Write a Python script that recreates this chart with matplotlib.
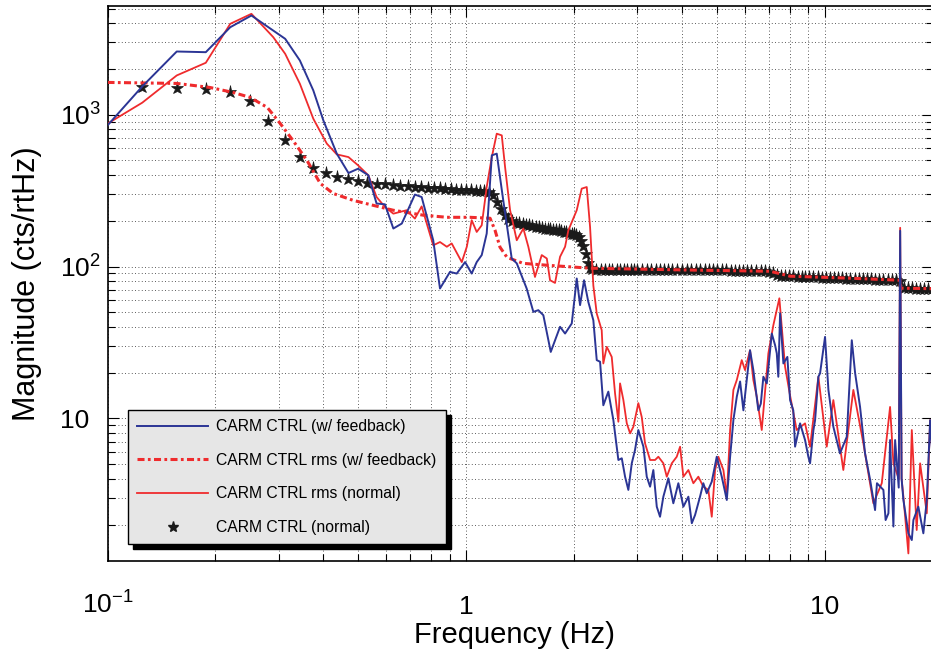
import matplotlib
matplotlib.use('Agg')
import numpy as np
import matplotlib.pyplot as plt
from matplotlib.lines import Line2D
from matplotlib.ticker import FixedLocator, LogLocator, NullFormatter

plt.rcParams['font.family'] = ['Liberation Sans', 'DejaVu Sans']
plt.rcParams['mathtext.fontset'] = 'custom'
plt.rcParams['mathtext.rm'] = 'Liberation Sans'
plt.rcParams['mathtext.it'] = 'Liberation Sans:italic'
plt.rcParams['mathtext.bf'] = 'Liberation Sans:bold'

# CARM CTRL (w/ feedback)
f_blue = [0.1, 0.125, 0.156, 0.188, 0.22, 0.252, 0.313, 0.344, 0.375, 0.40,
          0.436, 0.47, 0.50, 0.534, 0.563, 0.594, 0.627, 0.662, 0.72, 0.752,
          0.81, 0.846, 0.902, 0.942, 0.994, 1.037, 1.071, 1.106, 1.142, 1.18,
          1.218, 1.27, 1.341, 1.385, 1.476, 1.541, 1.591, 1.643, 1.723, 1.829,
          1.889, 1.972, 2.036, 2.08, 2.134, 2.193, 2.265, 2.315, 2.365, 2.415,
          2.494, 2.576, 2.66, 2.719, 2.777, 2.836, 2.899, 2.96, 3.024, 3.124,
          3.192, 3.261, 3.33, 3.404, 3.476, 3.551, 3.667, 3.786, 3.91, 4.038,
          4.17, 4.263, 4.353, 4.494, 4.59, 4.692, 4.846, 5.004, 5.167, 5.337,
          5.452, 5.568, 5.691, 5.813, 5.937, 6.196, 6.329, 6.535, 6.64, 6.75,
          6.9, 7.125, 7.276, 7.357, 7.43, 7.515, 7.676, 7.875, 8.013, 8.18,
          8.274, 8.545, 8.822, 9.01, 9.111, 9.31, 9.409, 9.61, 9.714, 10.03,
          10.25, 10.58, 11.04, 11.53, 11.91, 12.17, 12.56, 12.97, 13.4, 13.83,
          14.0, 14.59, 14.8, 15.07, 15.23, 15.56, 15.73, 16.1, 16.25, 16.4,
          16.59, 17.13, 17.51, 17.69, 18.26, 18.86, 19.28, 19.7, 20.0]
v_blue = [850, 1535, 2608, 2581, 3770, 4502, 3162, 2276, 1445, 917,
          554, 413, 441, 399, 260, 257, 178, 192, 298, 287,
          149, 71.7, 92.2, 89.9, 107, 89.9, 107, 119, 165, 540,
          554, 273, 113, 105, 71.7, 50.3, 51.6, 47.8, 27.4, 40.1,
          36.2, 42.2, 83.4, 55.7, 81.3, 58.5, 44.3, 24.2, 23.6, 12.2,
          15.0, 9.74, 5.32, 5.46, 4.13, 3.38, 5.06, 6.19, 8.38, 6.51,
          4.13, 3.55, 4.57, 2.62, 2.25, 3.05, 4.03, 2.76, 3.74, 2.62,
          3.05, 2.04, 2.31, 3.05, 3.74, 3.21, 3.83, 5.59, 4.13, 2.90,
          5.59, 9.74, 13.9, 17.5, 11.3, 28.1, 20.8, 11.3, 12.5, 18.8,
          17.0, 36.2, 30.4, 26.8, 18.8, 49.1, 23.0, 25.4, 13.2, 11.3,
          6.51, 9.27, 7.20, 5.59, 5.06, 8.38, 9.74, 18.8, 19.8, 34.4,
          15.4, 8.81, 5.88, 7.56, 32.7, 19.8, 11.9, 5.88, 3.93, 2.49,
          3.74, 3.38, 2.14, 2.37, 7.2, 1.94, 7.2, 3.5, 172, 4.0,
          2.9, 1.75, 1.58, 2.14, 2.62, 1.75, 2.9, 9.74, 5.5]

# CARM CTRL rms (normal)
f_red = [0.1, 0.125, 0.156, 0.188, 0.22, 0.252, 0.29, 0.313, 0.344, 0.375,
         0.409, 0.436, 0.47, 0.50, 0.534, 0.563, 0.594, 0.627, 0.683, 0.72,
         0.752, 0.81, 0.846, 0.884, 0.912, 0.973, 1.005, 1.037, 1.071, 1.106,
         1.142, 1.18, 1.218, 1.258, 1.285, 1.327, 1.385, 1.445, 1.492, 1.557,
         1.626, 1.68, 1.715, 1.771, 1.829, 1.889, 1.929, 2.036, 2.102, 2.171,
         2.218, 2.265, 2.315, 2.39, 2.415, 2.469, 2.549, 2.604, 2.66, 2.689,
         2.747, 2.808, 2.868, 2.929, 3.024, 3.091, 3.157, 3.261, 3.366, 3.439,
         3.551, 3.63, 3.749, 3.87, 3.954, 4.038, 4.17, 4.306, 4.446, 4.59,
         4.74, 4.846, 4.95, 5.056, 5.222, 5.337, 5.452, 5.568, 5.691, 5.875,
         6.0, 6.196, 6.329, 6.47, 6.68, 6.97, 7.197, 7.48, 7.76, 8.01,
         8.36, 8.822, 9.111, 9.61, 10.14, 10.58, 11.28, 12.03, 12.83, 13.68,
         14.44, 15.23, 15.56, 16.1, 16.25, 16.4, 16.59, 17.13, 17.51, 18.07,
         18.47, 19.28, 19.7, 20.0]
v_red = [873, 1200, 1814, 2198, 3970, 4619, 3240, 2519, 1599, 941,
         645, 548, 526, 464, 399, 287, 247, 223, 235, 207,
         249, 138, 145, 135, 142, 107, 135, 202, 169, 187,
         334, 526, 750, 731, 452, 235, 149, 178, 135, 85.4,
         119, 113, 81.3, 78.0, 116, 135, 173, 235, 326, 334,
         182, 75, 49.1, 38.1, 23.0, 29.6, 25.4, 14.6, 9.5, 17.0,
         13.2, 9.27, 7.97, 8.81, 12.6, 10.2, 6.85, 5.32, 5.32, 5.59,
         5.06, 4.13, 5.06, 5.59, 6.51, 4.13, 4.57, 3.74, 4.13, 3.55,
         3.38, 2.25, 4.57, 5.59, 4.57, 3.05, 8.38, 15.4, 17.9, 24.2,
         20.8, 28.1, 17.9, 13.9, 8.38, 26.8, 41.1, 61.8, 21.9, 14.2,
         8.38, 9.27, 6.51, 18.8, 6.51, 13.2, 4.57, 15.4, 6.85, 2.76,
         3.74, 11.9, 5.06, 4.0, 180, 4.0, 3.05, 1.29, 8.38, 1.84,
         5.06, 2.37, 9.74, 6.0]

# CARM CTRL rms (w/ feedback)
f_rms = [0.1, 0.156, 0.193, 0.224, 0.25, 0.279, 0.303, 0.329, 0.36, 0.392,
         0.426, 0.484, 0.551, 0.626, 0.759, 0.885, 1.026, 1.167, 1.205, 1.244,
         1.301, 1.442, 1.683, 2.22, 4.5, 7.05, 8.01, 11.8, 16.2, 16.3, 20.0]
v_rms = [1632, 1607, 1512, 1402, 1300, 1117, 877, 677, 500, 353,
         303, 273, 253, 235, 218, 211, 211, 208, 173, 134,
         115, 105, 102, 97.5, 94.6, 93.1, 86.4, 83.8, 81.3, 72.0, 71.5]

# CARM CTRL (normal)
f_star = [0.125, 0.156, 0.188, 0.219, 0.25, 0.281, 0.313, 0.344, 0.375, 0.406,
          0.438, 0.469, 0.5, 0.531, 0.563, 0.594, 0.625, 0.656, 0.688, 0.719,
          0.75, 0.781, 0.813, 0.844, 0.875, 0.906, 0.938, 0.969, 1.0, 1.031,
          1.063, 1.094, 1.125, 1.156, 1.188, 1.219, 1.25, 1.281, 1.313, 1.344,
          1.375, 1.406, 1.438, 1.469, 1.5, 1.531, 1.563, 1.594, 1.625, 1.656,
          1.688, 1.719, 1.75, 1.781, 1.813, 1.844, 1.875, 1.906, 1.938, 1.969,
          2.0, 2.031, 2.063, 2.094, 2.125, 2.156, 2.188, 2.219, 2.25,
          2.31, 2.38, 2.44, 2.5, 2.56, 2.63, 2.69, 2.75, 2.81, 2.88,
          2.94, 3.0, 3.09, 3.19, 3.28, 3.38, 3.47, 3.56, 3.66, 3.75,
          3.88, 4.0, 4.13, 4.25, 4.38, 4.5, 4.63, 4.75, 4.88, 5.0,
          5.16, 5.31, 5.47, 5.63, 5.78, 5.94, 6.09, 6.25, 6.44, 6.63,
          6.81, 7.0, 7.19, 7.38, 7.56, 7.75, 7.97, 8.19, 8.41, 8.63,
          8.84, 9.06, 9.31, 9.56, 9.81, 10.06, 10.34, 10.63, 10.91, 11.19,
          11.5, 11.81, 12.13, 12.44, 12.78, 13.13, 13.47, 13.84, 14.22, 14.59,
          15.0, 15.38, 15.78, 16.19, 16.63, 17.06, 17.5, 17.97, 18.44, 18.94,
          19.44, 19.97]
v_star = [1512, 1489, 1467, 1402, 1223, 904, 678, 524, 443, 411,
          387, 375, 364, 355, 352, 348, 344, 341, 338, 335,
          333, 331, 329, 327, 325, 323, 321, 319, 318, 317,
          316, 315, 314, 312, 296, 268, 240, 220, 207, 199,
          195, 193, 191, 189, 187, 185, 183, 181, 179, 178,
          177, 176, 175, 174, 173, 172, 170, 169, 167, 165,
          163, 161, 156, 148, 137, 121, 106, 98, 96,
          95.5, 95.5, 95.3, 95, 95, 95, 95, 95, 95, 95,
          95, 95, 95, 95, 95, 95, 95, 95, 95, 95,
          94.8, 94.8, 94.7, 94.7, 94.6, 94.6, 94.5, 94.5, 94.4, 94.4,
          94.3, 94.2, 94.1, 94, 93.9, 93.8, 93.7, 93.6, 93.5, 93.3,
          93.1, 92.6, 90.5, 88.5, 87, 86.5, 86.2, 86, 85.8, 85.6,
          85.4, 85.2, 85, 84.8, 84.6, 84.4, 84.2, 84, 83.8, 83.6,
          83.4, 83.2, 83, 82.8, 82.6, 82.4, 82.2, 82, 81.8, 81.6,
          81.4, 81.2, 81, 80, 72, 71.8, 71.7, 71.6, 71.5, 71.4,
          71.3, 71.2]

blue = '#2b3595'
red = '#ef2b2d'

fig = plt.figure(figsize=(9.31, 6.55), dpi=100)
ax = fig.add_axes([107.5 / 931, 94 / 655, 825 / 931, 555 / 655])
ax.set_xscale('log')
ax.set_yscale('log')

ax.plot(f_star, v_star, ls='none', marker='*', ms=9.5, mew=0.5,
        color='#1a1a1a', zorder=2)
ax.plot(f_rms, v_rms, color=red, lw=2.2, ls=(0, (2.3, 1.1, 0.9, 1.1)), zorder=3)
ax.plot(f_red, v_red, color=red, lw=1.3, zorder=4)
ax.plot(f_blue, v_blue, color=blue, lw=1.4, zorder=5)

ax.set_xlim(0.1, 20)
ax.set_ylim(1.15, 5200)

ax.xaxis.set_major_locator(FixedLocator([0.1, 1, 10]))
ax.xaxis.set_minor_locator(LogLocator(base=10, subs=np.arange(2, 10)))
ax.xaxis.set_minor_formatter(NullFormatter())
ax.set_xticklabels([r'$\mathregular{10^{-1}}$', '1', '10'])
ax.yaxis.set_major_locator(FixedLocator([10, 100, 1000]))
ax.yaxis.set_minor_locator(LogLocator(base=10, subs=np.arange(2, 10)))
ax.yaxis.set_minor_formatter(NullFormatter())
ax.set_yticklabels(['10', r'$\mathregular{10^{2}}$', r'$\mathregular{10^{3}}$'])

ax.grid(True, which='both', ls=(0, (1, 3)), color='0.15', lw=0.6)
ax.tick_params(which='both', direction='in', top=True, right=True, width=0.8)
ax.tick_params(which='major', length=8)
ax.tick_params(which='minor', length=5)
ax.tick_params(axis='x', which='major', pad=38, labelsize=19)
ax.tick_params(axis='y', which='major', pad=34, labelsize=19)
for lab in ax.get_xticklabels():
    lab.set_verticalalignment('baseline')
for lab in ax.get_yticklabels():
    lab.set_horizontalalignment('left')
for sp in ax.spines.values():
    sp.set_linewidth(1.2)

ax.set_xlabel('Frequency (Hz)', fontsize=21)
ax.xaxis.set_label_coords(0.493, -0.109)
ax.set_ylabel('Magnitude (cts/rtHz)', fontsize=22)
ax.yaxis.set_label_coords(-0.079, 0.5)

handles = [
    Line2D([], [], color=blue, lw=1.4),
    Line2D([], [], color=red, lw=2.2, ls=(0, (2.3, 1.1, 0.9, 1.1))),
    Line2D([], [], color=red, lw=1.3),
    Line2D([], [], ls='none', marker='*', ms=8, color='#1a1a1a'),
]
labels = ['CARM CTRL (w/ feedback)', 'CARM CTRL rms (w/ feedback)',
          'CARM CTRL rms (normal)', 'CARM CTRL (normal)']
leg = ax.legend(handles, labels, loc='upper left', bbox_to_anchor=(0.0248, 0.272),
                borderaxespad=0, fontsize=11.3, handlelength=4.5, handletextpad=0.5,
                labelspacing=1.18, borderpad=0.6, fancybox=False, framealpha=1,
                facecolor='#e6e6e6', edgecolor='black', numpoints=1,
                shadow={'ox': 3.6, 'oy': -3.6, 'shade': 1.0, 'alpha': 1.0})
leg.get_frame().set_linewidth(1.0)
leg.set_zorder(10)

fig.savefig('out.png', dpi=100)
